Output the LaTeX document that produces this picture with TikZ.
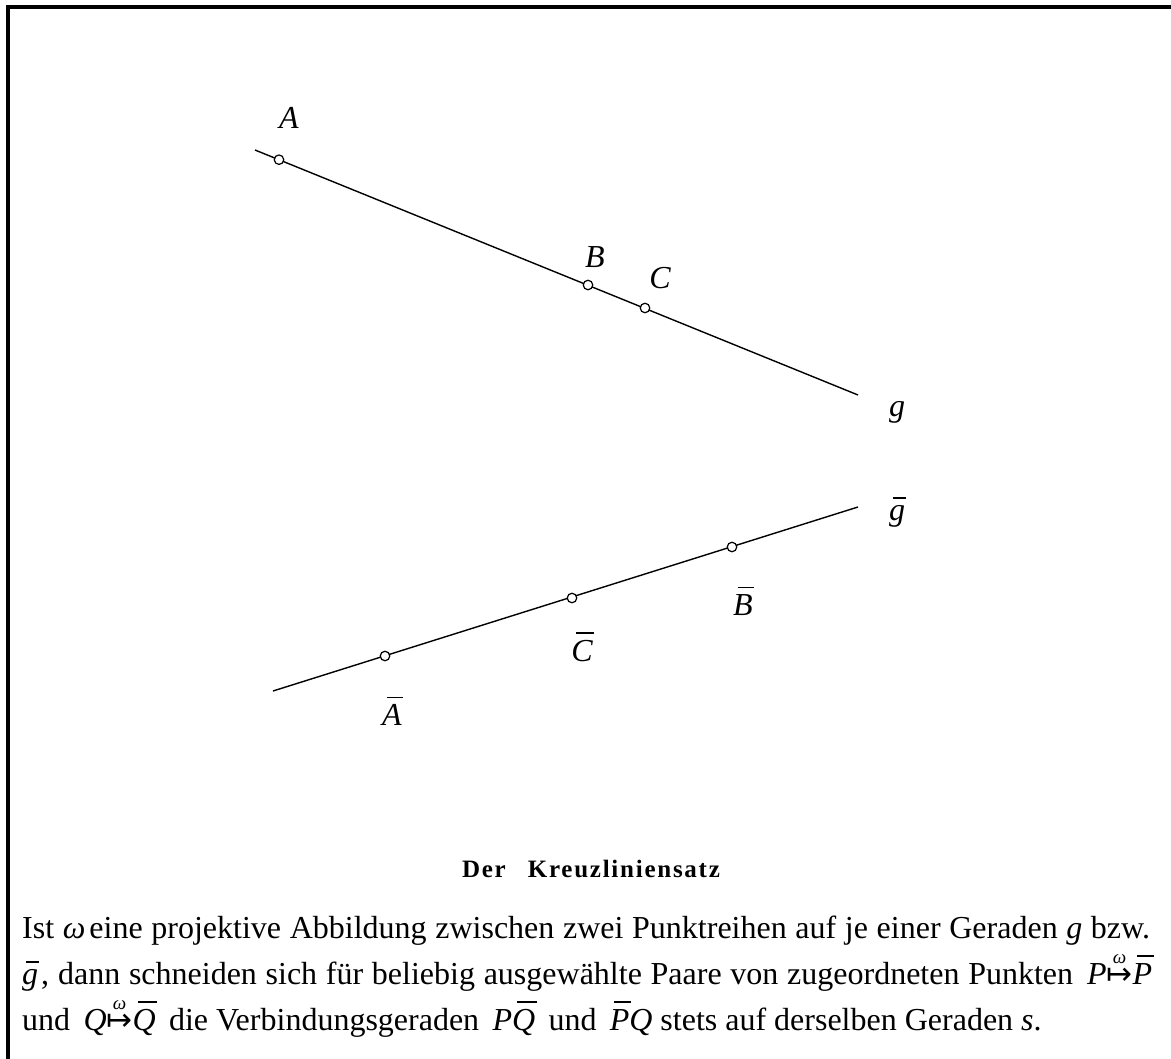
\documentclass[tikz,border=0pt]{standalone}
\usepackage{fontspec}
\setmainfont{Liberation Serif}
\newfontfamily\symfont{DejaVu Sans}
\newsavebox{\ovbox}
\newcommand{\ov}[1]{\sbox{\ovbox}{\itshape #1}\leavevmode\vbox{\offinterlineskip\hbox to \wd\ovbox{\hskip0.22\wd\ovbox\rule{0.85\wd\ovbox}{0.055em}\hss}\kern0.19em\copy\ovbox}}
\newsavebox{\arbox}
\newcommand{\mto}{\sbox{\arbox}{\symfont\fontsize{31}{31}\selectfont ↦}\leavevmode\vbox{\offinterlineskip\hbox to \wd\arbox{\hss\fontsize{19}{19}\selectfont\itshape ω\hss}\kern4pt\copy\arbox}}
\begin{document}
\begin{tikzpicture}[x=1pt,y=-1pt,
  gline/.style={line width=1.4pt},
  pt/.style={circle,draw,fill=white,line width=1.2pt,minimum size=9.5pt,inner sep=0pt},
  lbl/.style={font=\fontsize{32}{38}\selectfont\itshape,inner sep=0pt},
  body/.style={font=\fontsize{32}{49}\selectfont,inner sep=0pt,anchor=base west}]
\useasboundingbox (0,0) rectangle (1171,1059);
\draw[line width=3.5pt] (8,1059) -- (8,7) -- (1171,7);
% line g
\coordinate (g1) at (255,150);
\coordinate (g2) at (858,395);
\draw[gline] (g1) -- (g2);
\node[pt] (A) at (279,159.7) {};
\node[pt] (B) at (588,285) {};
\node[pt] (C) at (645,308) {};
% line gbar
\coordinate (h1) at (273,691);
\coordinate (h2) at (858,507);
\draw[gline] (h1) -- (h2);
\node[pt] (Ab) at (385,656) {};
\node[pt] (Cb) at (572,598) {};
\node[pt] (Bb) at (732,547) {};
% labels
\node[lbl] (lA) at (289,118) {A};
\node[lbl] (lB) at (595,257) {B};
\node[lbl] (lC) at (660,278) {C};
\node[lbl] (lg) at (897,412) {g};
\node[lbl] (lgb) at (897,512) {\ov{g}};
\node[lbl] (lBb) at (743,601) {\ov{B}};
\node[lbl] (lCb) at (582,647) {\ov{C}};
\node[lbl] (lAb) at (392,711) {\ov{A}};
% title
\node[font=\fontsize{25}{30}\selectfont\bfseries\addfontfeatures{LetterSpace=7},inner sep=0pt,anchor=base] (title) at (591,877) {Der\hspace{14pt} Kreuzliniensatz};
% body text
\node[body] (l1) at (22,938) {\hbox to 1128pt{Ist \textit{ω}\kern4pt eine projektive Abbildung zwischen zwei Punktreihen auf je einer Geraden \textit{g} bzw.}};
\node[body] (l2) at (22,984) {\hbox to 1130pt{\ov{g}\kern3pt, dann schneiden sich für beliebig ausgewählte Paare von zugeordneten Punkten \,\textit{P}\mto\ov{P}}};
\node[body] (l3) at (22,1030) {und \,\textit{Q}\mto\ov{Q}\, die Verbindungsgeraden \,\textit{P}\ov{Q}\, und \,\ov{P}\textit{Q} stets auf derselben Geraden \textit{s}.};
\end{tikzpicture}
\end{document}
